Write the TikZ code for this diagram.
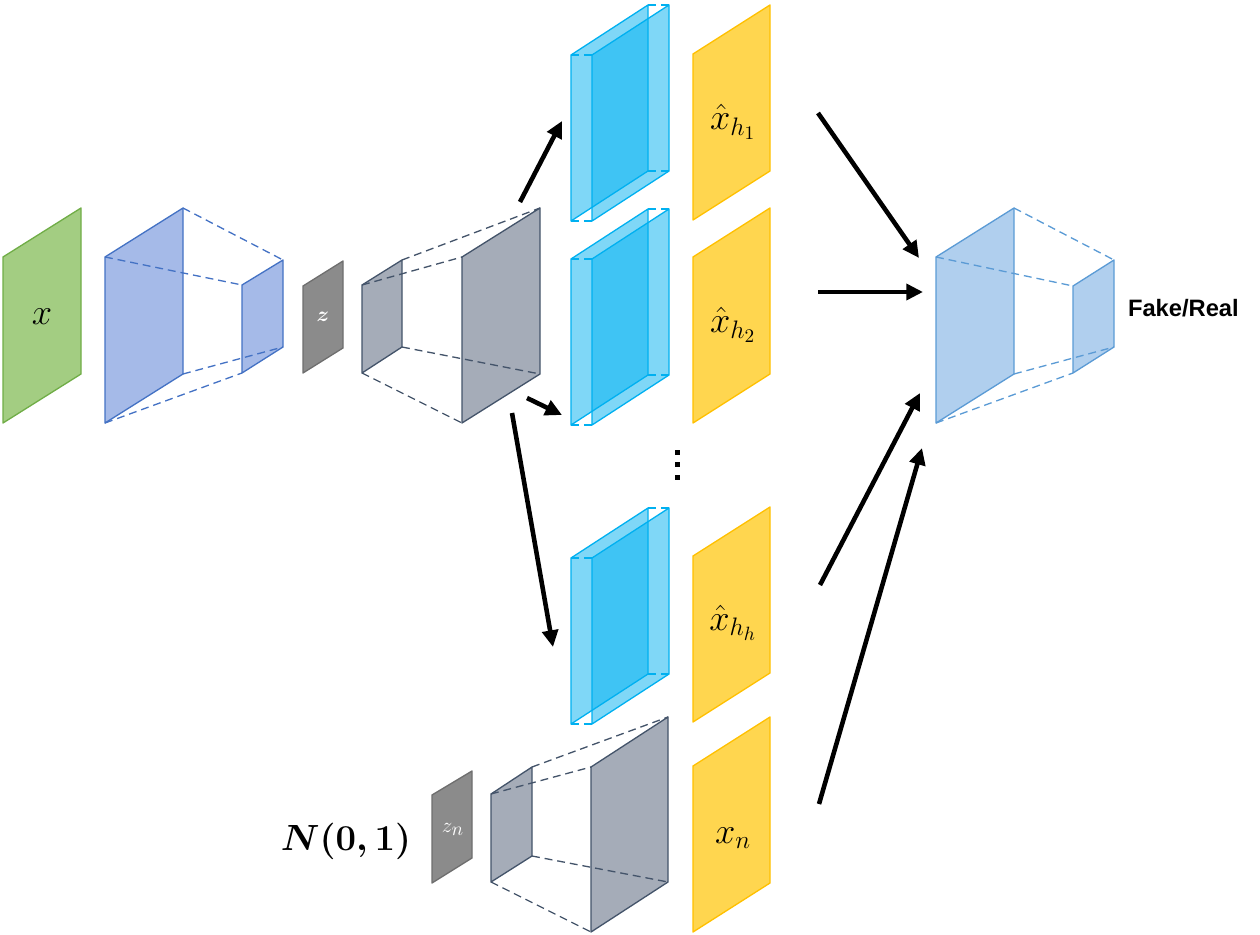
\documentclass[tikz,border=0pt]{standalone}
\usepackage{amsmath,amssymb}
\usepackage{fontspec}
\newfontfamily\labelsans{Liberation Sans}
\usepackage{xcolor}
\usetikzlibrary{arrows.meta,positioning}
\DeclareMathSizes{20}{20}{15}{11}
\DeclareMathSizes{13}{13}{11}{9}

\definecolor{infill}{HTML}{A3CD82}
\definecolor{inline}{HTML}{70AD47}
\definecolor{encfill}{HTML}{A5BAE8}
\definecolor{encline}{HTML}{4472C4}
\definecolor{codefill}{HTML}{8B8B8B}
\definecolor{codeline}{HTML}{6E6E6E}
\definecolor{decfill}{HTML}{A5ACB8}
\definecolor{decline}{HTML}{44546A}
\definecolor{headblue}{HTML}{00B0F0}
\definecolor{outfill}{HTML}{FFD64F}
\definecolor{outline}{HTML}{FFC000}
\definecolor{discfill}{HTML}{B0CFEE}
\definecolor{discline}{HTML}{5B9BD5}

\begin{document}
\begin{tikzpicture}[
x=0.02cm,
y=-0.02cm,
every node/.style={inner sep=0pt,outer sep=0pt},
face/.style={line width=0.75pt,line join=round},
edgedash/.style={line width=0.75pt,dash pattern=on 4.5pt off 2.8pt},
inface/.style={face,draw=inline,fill=infill},
encface/.style={face,draw=encline,fill=encfill},
encdash/.style={edgedash,draw=encline},
codeface/.style={face,draw=codeline,fill=codefill},
decface/.style={face,draw=decline,fill=decfill},
decdash/.style={edgedash,draw=decline},
slab/.style={face,draw=headblue,fill=headblue,fill opacity=0.5},
slabdash/.style={edgedash,draw=headblue},
outface/.style={face,draw=outline,fill=outfill},
discface/.style={face,draw=discline,fill=discfill},
discdash/.style={edgedash,draw=discline},
mathlbl/.style={font=\fontsize{20}{24}\selectfont,anchor=base},
codelbl/.style={text=white,font=\fontsize{13}{15}\selectfont,anchor=base},
arr/.style={-{Triangle[length=9.5pt,width=9pt]},line width=2.6pt}
]
\useasboundingbox (0,0) rectangle (1260,935);

% input image
\draw[inface] (3,257) -- (81,208) -- (81,374) -- (3,423) -- cycle;
\node[mathlbl] (xin) at (42,325) {$x$};

% encoder
\draw[encface] (105,257) -- (183,208) -- (183,374) -- (105,423) -- cycle;
\draw[encface] (242,285) -- (283,260) -- (283,347) -- (242,373) -- cycle;
\draw[encdash] (183,208) -- (283,260) (105,257) -- (242,285)
  (183,374) -- (283,347) (105,423) -- (242,373);

% code
\draw[codeface] (303,286) -- (343,261) -- (343,348) -- (303,373) -- cycle;
\node[codelbl] (zcode) at (323,322) {$\boldsymbol{z}$};

% decoder
\draw[decface] (362,285) -- (402,260) -- (402,347) -- (362,373) -- cycle;
\draw[decface] (462,257) -- (540,208) -- (540,374) -- (462,423) -- cycle;
\draw[decdash] (402,260) -- (540,208) (362,285) -- (462,257)
  (402,347) -- (540,374) (362,373) -- (462,423);

% heads
\foreach \t in {55,259,558}{
  \draw[slab] (571,\t) -- (648,\t-50) -- (648,\t+116) -- (571,\t+166) -- cycle;
  \draw[slab] (592,\t) -- (669,\t-50) -- (669,\t+116) -- (592,\t+166) -- cycle;
  \draw[slabdash] (571,\t) -- (592,\t) (571,\t+166) -- (592,\t+166)
    (648,\t-50) -- (669,\t-50) (648,\t+116) -- (669,\t+116);
}
\foreach \d in {452,464.5,477}
  \fill (674.5,\d-2.5) rectangle ++(5,5);

% outputs
\foreach \t in {54,257,556,766}
  \draw[outface] (693,\t) -- (770,\t-49) -- (770,\t+117) -- (693,\t+166) -- cycle;
\node[mathlbl] (xh1) at (733,130) {$\hat{x}_{h_1}$};
\node[mathlbl] (xh2) at (733,333) {$\hat{x}_{h_2}$};
\node[mathlbl] (xhh) at (733,630) {$\hat{x}_{h_h}$};
\node[mathlbl] (xn) at (733,843) {$x_n$};

% noise branch
\node[mathlbl] (noise) at (346,850) {$\boldsymbol{N(0,1)}$};
\draw[codeface] (432,795) -- (472,771) -- (472,858) -- (432,883) -- cycle;
\node[codelbl] (zn) at (453,832) {$z_n$};
\draw[decface] (491,794) -- (532,767) -- (532,856) -- (491,882) -- cycle;
\draw[decface] (591,767) -- (668,717) -- (668,882) -- (591,932) -- cycle;
\draw[decdash] (532,767) -- (668,717) (491,794) -- (591,767)
  (532,856) -- (668,882) (491,882) -- (591,932);

% discriminator
\draw[discface] (936,257) -- (1014,208) -- (1014,374) -- (936,423) -- cycle;
\draw[discface] (1073,286) -- (1114,260) -- (1114,347) -- (1073,373) -- cycle;
\draw[discdash] (1014,208) -- (1114,260) (936,257) -- (1073,286)
  (1014,374) -- (1114,347) (936,423) -- (1073,373);
\node[font=\labelsans\bfseries\fontsize{13.5}{16}\selectfont,anchor=base west] (verdict) at (1128,317) {Fake/Real};

% arrows
\coordinate (decup) at (520,202);
\coordinate (decmid) at (527,398);
\coordinate (declow) at (512,413);
\coordinate (h1in) at (562,121);
\coordinate (h2in) at (562,415);
\coordinate (hhin) at (553,647);
\coordinate (h1out) at (818,113);
\coordinate (h2out) at (818,292);
\coordinate (hhout) at (820,585);
\coordinate (xnout) at (819,804);
\coordinate (discin1) at (919,258);
\coordinate (discin2) at (923,292);
\coordinate (discin3) at (920,393);
\coordinate (discin4) at (922,448);

\draw[arr] (decup) -- (h1in);
\draw[arr] (decmid) -- (h2in);
\draw[arr] (declow) -- (hhin);
\draw[arr] (h1out) -- (discin1);
\draw[arr] (h2out) -- (discin2);
\draw[arr] (hhout) -- (discin3);
\draw[arr] (xnout) -- (discin4);
\end{tikzpicture}
\end{document}
